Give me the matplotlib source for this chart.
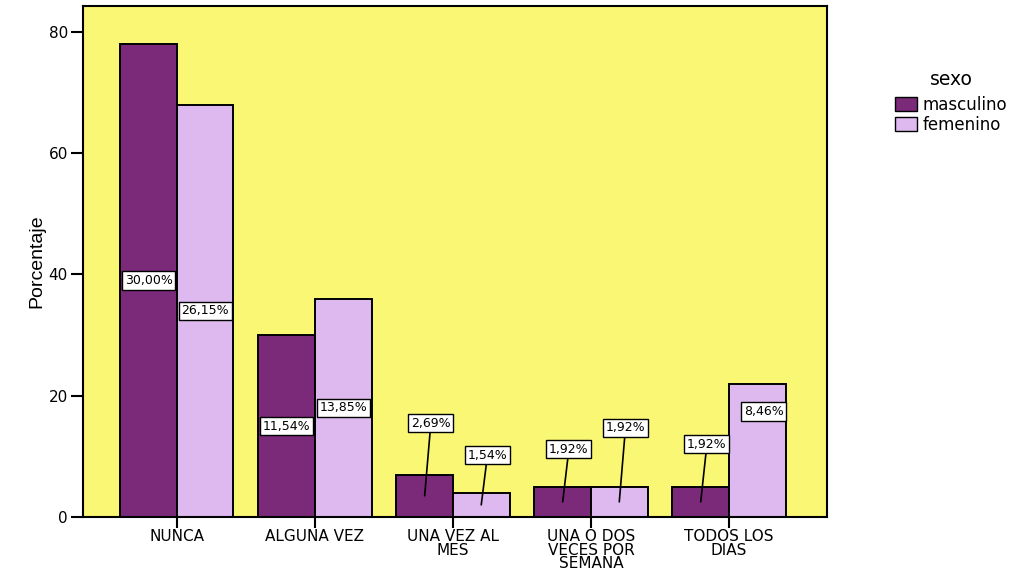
import numpy as np
import matplotlib
matplotlib.use("Agg")
import matplotlib.pyplot as plt
from matplotlib.patches import Patch

categorias = ["NUNCA", "ALGUNA VEZ", "UNA VEZ AL\nMES", "UNA O DOS\nVECES POR\nSEMANA", "TODOS LOS\nDIAS"]
masculino = [78, 30, 7, 5, 5]
femenino = [68, 36, 4, 5, 22]
etiq_masc = ["30,00%", "11,54%", "2,69%", "1,92%", "1,92%"]
etiq_fem = ["26,15%", "13,85%", "1,54%", "1,92%", "8,46%"]

col_masc = "#7b2979"
col_fem = "#ddb9f0"
fondo = "#faf774"

plt.rcParams["font.family"] = ["DejaVu Sans"]

fig = plt.figure(figsize=(10.2, 5.71), dpi=100)
ax = fig.add_axes([0.0814, 0.0946, 0.7294, 0.895])
ax.set_facecolor(fondo)

x = np.arange(len(categorias))
w = 0.41
b1 = ax.bar(x - w / 2, masculino, w, color=col_masc, edgecolor="black", linewidth=1.4)
b2 = ax.bar(x + w / 2, femenino, w, color=col_fem, edgecolor="black", linewidth=1.4)

# posicion de las etiquetas: None = dentro de la barra, numero = altura de la caja
pos_masc = [None, None, 15.5, 11.2, 12.0]
pos_fem = [None, None, 10.2, 14.7, None]

caja = dict(boxstyle="square,pad=0.22", fc="white", ec="black", lw=1.0)

def etiquetar(barras, textos, posiciones):
    for b, t, p in zip(barras, textos, posiciones):
        cx = b.get_x() + b.get_width() / 2
        h = b.get_height()
        if p is None:
            if h > 25:
                ax.text(cx, h / 2, t, ha="center", va="center", fontsize=9, bbox=caja, zorder=5)
            else:
                ax.text(cx + 0.045, h * 0.79, t, ha="center", va="center", fontsize=9, bbox=caja, zorder=5)
        else:
            ax.annotate(t, xy=(cx, h / 2), xytext=(cx + 0.045, p),
                        ha="center", va="center", fontsize=9, bbox=caja, zorder=5,
                        arrowprops=dict(arrowstyle="-", color="black", lw=1.2,
                                        shrinkA=0, shrinkB=0))

etiquetar(b1, etiq_masc, pos_masc)
etiquetar(b2, etiq_fem, pos_fem)

ax.set_xlim(-0.68, 4.71)
ax.set_ylim(0, 84.3)
ax.set_yticks([0, 20, 40, 60, 80])
ax.set_xticks(x)
ax.set_xticklabels(categorias, fontsize=11, linespacing=0.85)
ax.tick_params(axis="y", labelsize=11, length=9, width=1.5, direction="out", pad=2)
ax.tick_params(axis="x", length=8, width=1.5, direction="out", pad=1)
ax.set_ylabel("Porcentaje", fontsize=14, family="Liberation Sans", labelpad=2)
for s in ax.spines.values():
    s.set_linewidth(1.5)

handles = [Patch(facecolor=col_masc, edgecolor="black", label="masculino"),
           Patch(facecolor=col_fem, edgecolor="black", label="femenino")]
leg = fig.legend(handles=handles, title="sexo", loc="upper left",
                 bbox_to_anchor=(0.871, 0.889), frameon=False, fontsize=12,
                 title_fontsize=13.5, handlelength=1.3, handleheight=0.9,
                 handletextpad=0.35, labelspacing=0.1, borderaxespad=0)
leg._legend_box.sep = 5

fig.savefig("out.png", dpi=100)
